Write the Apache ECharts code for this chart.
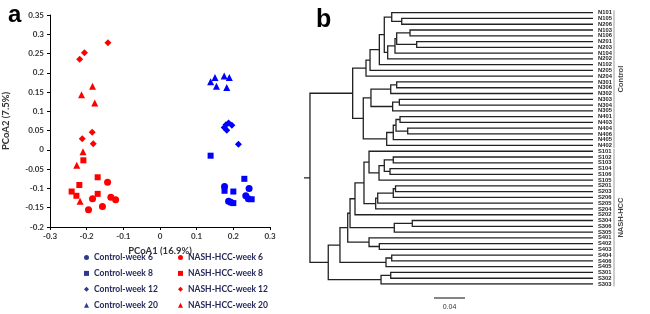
<!DOCTYPE html>
<html><head><meta charset="utf-8">
<script src="https://cdn.jsdelivr.net/npm/echarts@6/dist/echarts.min.js"></script>
<style>html,body{margin:0;padding:0;background:#fff}#c{width:650px;height:314px}</style>
</head><body><div id="c"></div>
<script>
// ---------- Panel a: PCoA ----------
const seriesNames = ['Control-week 6','Control-week 8','Control-week 12','Control-week 20',
                     'NASH-HCC-week 6','NASH-HCC-week 8','NASH-HCC-week 12','NASH-HCC-week 20'];
const controlWeek6  = [[0.176,-0.095],[0.243,-0.100],[0.234,-0.119],[0.241,-0.127],[0.187,-0.133],[0.193,-0.136]];
const controlWeek8  = [[0.138,-0.015],[0.230,-0.075],[0.176,-0.106],[0.200,-0.108],[0.250,-0.128],[0.200,-0.138]];
const controlWeek12 = [[0.175,0.058],[0.182,0.051],[0.187,0.070],[0.196,0.064],[0.180,0.065],[0.214,0.015]];
const controlWeek20 = [[0.138,0.177],[0.150,0.188],[0.154,0.165],[0.175,0.192],[0.189,0.188],[0.182,0.162]];
const nashWeek6  = [[-0.143,-0.084],[-0.184,-0.127],[-0.134,-0.123],[-0.121,-0.129],[-0.195,-0.155],[-0.157,-0.147]];
const nashWeek8  = [[-0.209,-0.027],[-0.170,-0.071],[-0.220,-0.091],[-0.241,-0.108],[-0.228,-0.119],[-0.170,-0.114]];
const nashWeek12 = [[-0.142,0.278],[-0.206,0.252],[-0.219,0.235],[-0.185,0.046],[-0.212,0.029],[-0.182,0.016]];
const nashWeek20 = [[-0.184,0.165],[-0.214,0.143],[-0.178,0.122],[-0.210,-0.005],[-0.227,-0.040],[-0.218,-0.133]];
const xAxisTitle = 'PCoA1 (16.9%)';
const yAxisTitle = 'PCoA2 (7.5%)';

// ---------- Panel b: dendrogram ----------
const leaves = ['N101','N105','N206','N103','N106','N201','N203','N104','N202','N102','N205','N204',
  'N301','N306','N302','N303','N304','N305','N401','N403','N404','N406','N405','N402',
  'S101','S102','S103','S104','S106','S105','S201','S203','S206','S205','S204','S202',
  'S304','S306','S305','S401','S402','S403','S404','S406','S405','S301','S302','S303'];
// [child1, child2, height]; strings = leaves, numbers = earlier merge index
const merges = [
  ['N105','N206',0.2468], ['N101',0,0.2597], ['N103','N106',0.2361], ['N201','N203',0.2275],
  [2,3,0.2533], [4,'N104',0.2555], [5,'N202',0.2649], [1,6,0.2693], [7,'N102',0.2757],
  [8,'N205',0.2877], [9,'N204',0.2929],
  ['N301','N306',0.2533], [11,'N302',0.2610], ['N303','N304',0.2499], [13,'N305',0.2585], [12,14,0.2865],
  ['N401','N403',0.2490], ['N404','N406',0.2391], [16,17,0.2542], [18,'N405',0.2577], [19,'N402',0.2662],
  [15,20,0.2964], [10,21,0.3101],
  ['S102','S103',0.2577], ['S104','S106',0.2619], [23,24,0.2693], [25,'S105',0.2761], ['S101',26,0.2890],
  ['S201','S203',0.2548], [28,'S206',0.2577], [29,'S205',0.2778], [30,'S204',0.2804], [27,31,0.2955],
  [32,'S202',0.3071], ['S304','S306',0.2332], [34,'S305',0.2564], [33,35,0.3135],
  ['S402','S403',0.2757], ['S401',37,0.2890], [36,38,0.3165],
  ['S404','S406',0.2597], [40,'S405',0.2671], [39,41,0.3265],
  ['S301','S302',0.2610], [43,'S303',0.2735], [42,44,0.3416],
  [22,45,0.3652]
];
const rootEdge = 0.0077;
const groupNames = ['Control','NASH-HCC'];
const groupRanges = [[0,23],[24,47]];
const scaleBarLength = 0.04;
const scaleBarLabel = '0.04';

// ---------- build ----------
const leafIndex = {}; leaves.forEach((n,i)=>leafIndex[n]=i);
const nodeY = [], nodeH = [];
function ref(c){ return typeof c === 'string' ? {y:leafIndex[c], h:0} : {y:nodeY[c], h:nodeH[c]}; }
const segs = [];
merges.forEach((m,i)=>{
  const a = ref(m[0]), b = ref(m[1]), h = m[2];
  nodeY[i] = (a.y+b.y)/2; nodeH[i] = h;
  segs.push({coords:[[a.h,a.y],[h,a.y],[h,b.y],[b.h,b.y]]});
});
const rIdx = merges.length-1;
segs.push({coords:[[nodeH[rIdx],nodeY[rIdx]],[nodeH[rIdx]+rootEdge,nodeY[rIdx]]]});

const FF = 'Lato, "Liberation Sans", Arial, sans-serif';
const blue = '#0000FF', red = '#FF0000';
const symbols = ['circle','rect','diamond','triangle'];
const sizes = [7,6,7,7];
const allData = [controlWeek6,controlWeek8,controlWeek12,controlWeek20,nashWeek6,nashWeek8,nashWeek12,nashWeek20];

const series = allData.map((d,i)=>({
  name: seriesNames[i], type:'scatter', xAxisIndex:0, yAxisIndex:0,
  symbol: symbols[i%4], symbolSize: sizes[i%4],
  itemStyle:{color: i<4 ? blue : red, opacity:1},
  data: d, animation:false
}));
series.push({
  type:'lines', coordinateSystem:'cartesian2d', xAxisIndex:1, yAxisIndex:1,
  polyline:true, data:segs, silent:true, animation:false,
  lineStyle:{color:'#222', width:1.3, opacity:1}
});

const axisLabelStyle = {fontSize:8, fontWeight:'bold', color:'#333', fontFamily:FF};
const legendText = {fontSize:8.5, fontWeight:'bold', color:'#25285a', fontFamily:FF, lineHeight:8};

const chart = echarts.init(document.getElementById('c'), null, {renderer:'canvas'});
chart.setOption({
  animation:false,
  backgroundColor:'#fff',
  grid:[{left:49, top:15, width:221, height:212},{left:304, top:12.7, width:289, height:271.3}],
  xAxis:[
    {gridIndex:0, type:'value', min:-0.3, max:0.3, interval:0.1,
     axisLine:{onZero:false, lineStyle:{color:'#000', width:1}},
     axisTick:{show:true, length:3, lineStyle:{color:'#000'}},
     splitLine:{show:false}, axisLabel:Object.assign({margin:5}, axisLabelStyle),
     name:xAxisTitle, nameLocation:'middle', nameGap:19,
     nameTextStyle:{fontSize:9.5, fontWeight:'bold', color:'#333', fontFamily:FF}},
    {gridIndex:1, type:'value', inverse:true, min:0, max:merges[rIdx][2]+rootEdge, show:false}
  ],
  yAxis:[
    {gridIndex:0, type:'value', min:-0.2, max:0.35, interval:0.05,
     axisLine:{show:true, onZero:false, lineStyle:{color:'#000', width:1}},
     axisTick:{show:true, length:3, lineStyle:{color:'#000'}},
     splitLine:{show:false}, axisLabel:Object.assign({margin:6}, axisLabelStyle),
     name:yAxisTitle, nameLocation:'middle', nameGap:27,
     nameTextStyle:{fontSize:9.5, fontWeight:'bold', color:'#333', fontFamily:FF, padding:[0,0,12,0]}},
    {gridIndex:1, type:'value', inverse:true, min:0, max:leaves.length-1, show:false},
    {gridIndex:1, type:'category', data:leaves, inverse:true, boundaryGap:false, position:'right',
     axisLine:{show:false}, axisTick:{show:false}, splitLine:{show:false},
     axisLabel:{interval:0, margin:5, fontSize:5.8, fontWeight:'bold', color:'#222',
                fontFamily:'"Liberation Sans", Arial, sans-serif'}}
  ],
  legend:[
    {data:seriesNames.slice(0,4).map(n=>({name:n, itemStyle:{color:'#2e3a8f'}})), orient:'vertical', left:84, top:253, padding:0,
     itemWidth:5, itemHeight:5, itemGap:6.9, textStyle:legendText, selectedMode:false},
    {data:seriesNames.slice(4).map(n=>({name:n})), orient:'vertical', left:178, top:253, padding:0,
     itemWidth:5, itemHeight:5, itemGap:6.9, textStyle:legendText, selectedMode:false}
  ],
  series: series
});

// annotations computed from the axes
const toPx = (h,y)=>chart.convertToPixel({xAxisIndex:1, yAxisIndex:1},[h,y]);
const g = [];
g.push({type:'text', left:8, top:3, style:{text:'a', font:'bold 24px "Liberation Sans", Arial', fill:'#000'}});
g.push({type:'text', left:316, top:8, style:{text:'b', font:'bold 25px "Liberation Sans", Arial', fill:'#000'}});
groupRanges.forEach((r,i)=>{
  const y1 = toPx(0,r[0])[1]-2.5, y2 = toPx(0,r[1])[1]+2.5;
  g.push({type:'line', shape:{x1:614, y1:y1, x2:614, y2:y2}, style:{stroke:'#999', lineWidth:1}});
  g.push({type:'text', x:621, y:(y1+y2)/2, rotation:Math.PI/2,
          style:{text:groupNames[i], font:'bold 7.5px "Liberation Sans", Arial', fill:'#444', align:'center', verticalAlign:'middle'}});
});
const p0 = toPx(0,0)[0], p1 = toPx(scaleBarLength,0)[0];
const len = Math.abs(p0-p1);
g.push({type:'line', shape:{x1:434, y1:298, x2:434+len, y2:298}, style:{stroke:'#333', lineWidth:1.2}});
g.push({type:'text', x:434+len/2, y:307, style:{text:scaleBarLabel, font:'7px "Liberation Sans", Arial', fill:'#333', align:'center', verticalAlign:'middle'}});
chart.setOption({graphic:g});
</script>
</body></html>
